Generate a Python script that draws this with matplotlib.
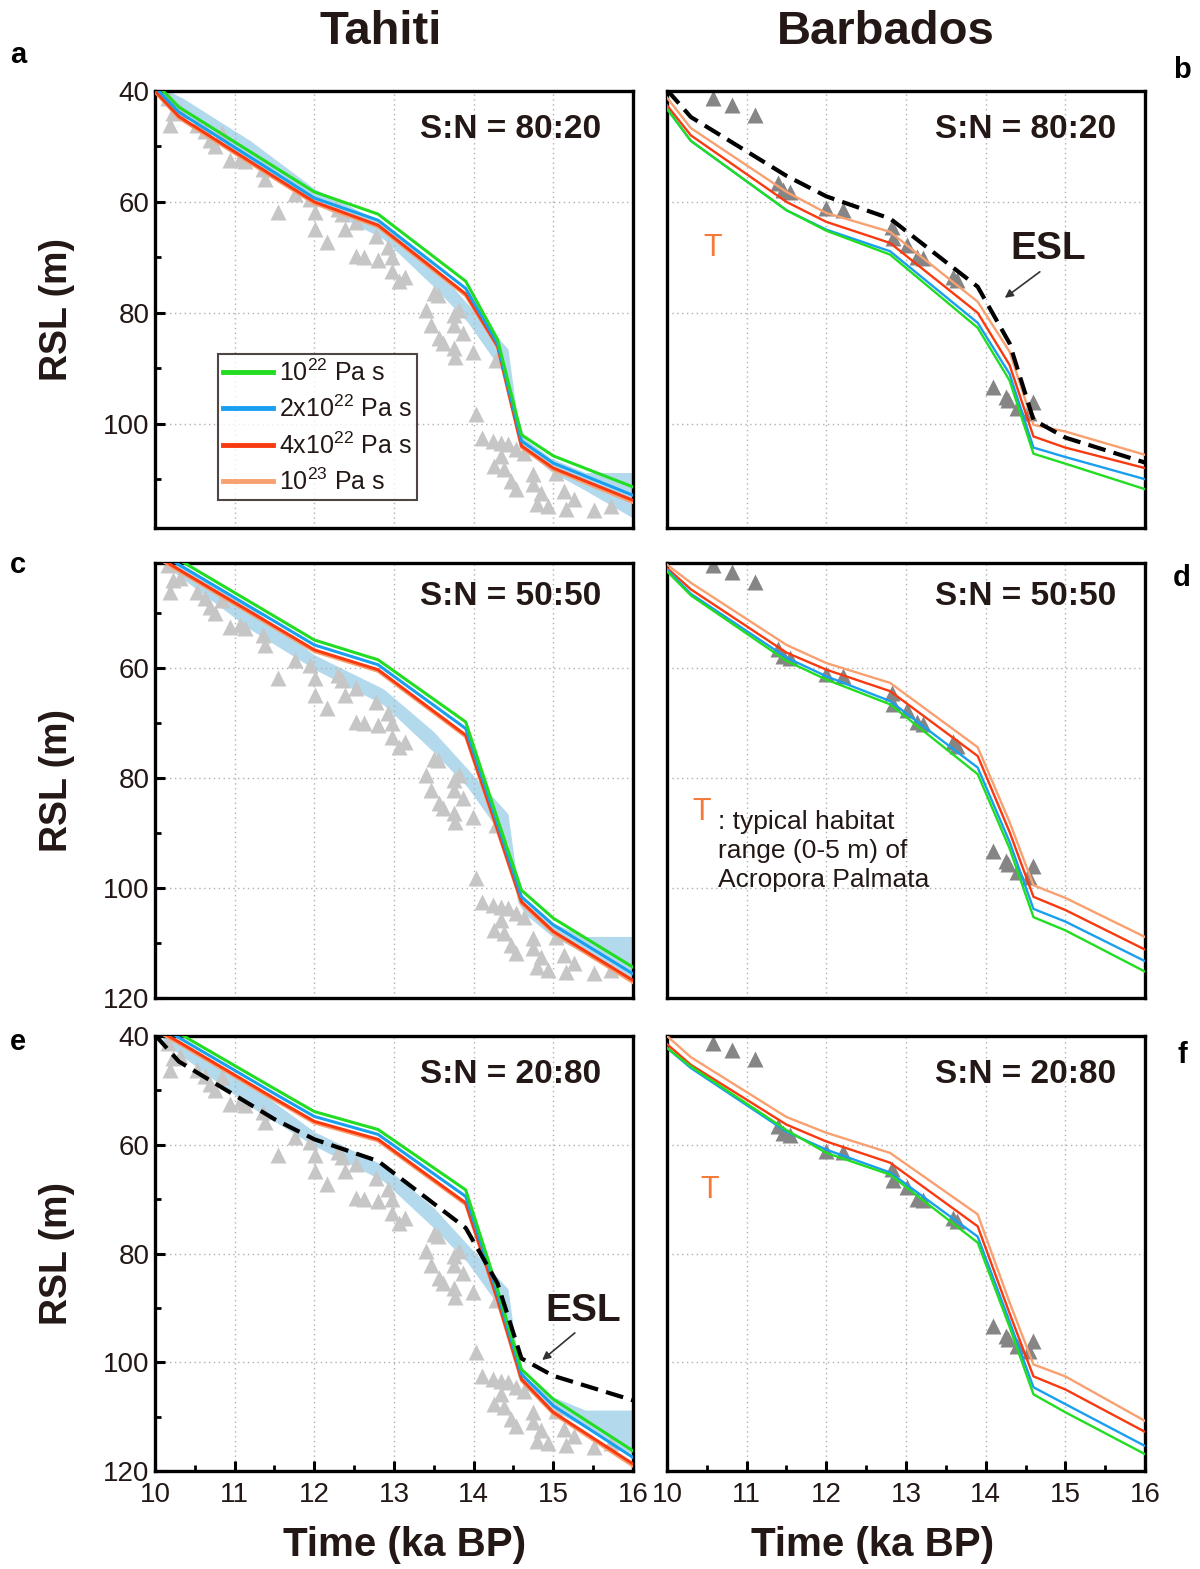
import numpy as np
import matplotlib
matplotlib.use("Agg")
import matplotlib.pyplot as plt
from matplotlib.lines import Line2D

plt.rcParams['font.family'] = ['Liberation Sans', 'DejaVu Sans']
plt.rcParams['mathtext.fontset'] = 'custom'
plt.rcParams['mathtext.rm'] = 'Liberation Sans'

TXT = "#231815"

# ==========================================
# Data
# ==========================================

# model time nodes (ka BP)
t_model = [10.0, 10.3, 11.5, 12.0, 12.8, 13.9, 14.3, 14.6, 15.0, 16.0]

# Tahiti, S:N = 80:20
a_green = [38.5, 42.9, 53.7, 58.2, 62.2, 74.3, 84.8, 102.0, 105.8, 111.4]
a_blue = [39.3, 43.8, 54.7, 59.3, 63.3, 75.6, 85.6, 103.1, 107.1, 112.9]
a_red = [40.0, 44.6, 55.5, 60.0, 64.2, 76.6, 86.0, 104.0, 108.0, 113.8]
a_orange = [40.2, 44.9, 55.8, 60.3, 64.5, 76.9, 86.2, 104.3, 108.3, 114.2]

# Barbados, S:N = 80:20
b_green = [43.2, 49.0, 61.5, 65.2, 69.5, 82.7, 92.2, 105.4, 107.2, 111.8]
b_blue = [43.2, 49.0, 61.5, 65.0, 68.9, 81.8, 91.0, 104.3, 106.0, 110.0]
b_red = [42.6, 48.0, 60.0, 63.6, 67.4, 80.0, 89.4, 102.3, 104.3, 108.0]
b_orange = [41.2, 46.7, 58.2, 62.0, 65.4, 78.0, 87.0, 100.2, 101.4, 105.6]

# Tahiti, S:N = 50:50
c_green = [37.7, 40.3, 50.6, 54.9, 58.5, 69.8, 87.5, 100.4, 105.5, 114.4]
c_blue = [38.5, 41.2, 51.5, 55.8, 59.4, 71.0, 88.4, 101.6, 106.7, 115.6]
c_red = [39.4, 42.1, 52.4, 56.7, 60.3, 72.2, 89.4, 102.5, 107.9, 116.8]
c_orange = [39.7, 42.4, 52.7, 57.0, 60.6, 72.5, 89.7, 102.8, 108.2, 117.2]

# Barbados, S:N = 50:50
d_green = [42.4, 46.8, 58.7, 62.1, 66.6, 79.3, 92.8, 105.3, 107.7, 115.2]
d_blue = [42.1, 46.5, 58.1, 61.5, 66.0, 78.1, 91.6, 103.8, 106.1, 113.3]
d_red = [41.8, 45.7, 57.2, 60.3, 64.2, 76.0, 89.8, 101.6, 104.0, 111.2]
d_orange = [41.2, 44.5, 55.8, 59.1, 62.7, 74.4, 88.0, 99.5, 101.8, 108.9]

# Tahiti, S:N = 20:80
e_green = [37.0, 39.5, 49.7, 53.9, 57.2, 68.3, 86.6, 101.3, 106.8, 116.3]
e_blue = [37.8, 40.3, 50.6, 54.8, 58.1, 69.5, 87.5, 102.2, 108.0, 117.5]
e_red = [38.6, 41.1, 51.5, 55.7, 59.0, 70.7, 88.5, 103.1, 109.2, 118.7]
e_orange = [38.9, 41.4, 51.8, 56.0, 59.3, 71.0, 88.8, 103.4, 109.5, 119.1]

# Barbados, S:N = 20:80
f_green = [42.2, 45.6, 57.3, 61.5, 65.5, 78.0, 93.5, 105.9, 109.2, 116.9]
f_blue = [42.2, 45.9, 57.6, 60.9, 65.1, 76.9, 92.5, 104.6, 107.7, 115.4]
f_red = [41.5, 45.3, 56.3, 59.4, 63.3, 75.0, 91.0, 102.6, 105.0, 112.8]
f_orange = [40.0, 43.9, 54.9, 57.8, 61.5, 72.8, 89.0, 100.4, 102.6, 110.8]

# ESL (dashed)
esl = [39.8, 44.7, 55.3, 59.0, 63.0, 75.3, 85.5, 99.3, 102.5, 107.0]

# Tahiti shaded band
band_t = [10.1, 10.35, 11.2, 12.0, 12.87, 13.5, 13.92, 14.43, 14.55, 14.65, 14.97, 15.4, 16.0]
band_lo = [39.5, 41.3, 49.0, 57.6, 63.8, 71.6, 78.3, 86.5, 99.0, 102.8, 106.2, 108.8, 108.8]
band_hi = [41.0, 43.8, 53.0, 60.2, 66.7, 75.3, 81.6, 92.0, 102.5, 104.8, 108.6, 112.0, 117.0]

# Tahiti coral data
tah_t = [10.16, 10.23, 10.19, 10.31, 10.53, 10.63, 10.69, 10.75, 10.84, 10.94,
         11.07, 11.13, 11.35, 11.38, 11.55, 11.76, 11.95, 12.01, 12.01, 12.16,
         12.30, 12.35, 12.39, 12.52, 12.52, 12.62, 12.77, 12.80, 12.93, 12.98,
         12.98, 13.06, 13.14, 13.55, 13.40, 13.46, 13.56, 13.61, 13.75, 13.77,
         13.75, 13.81, 13.75, 13.86, 13.99, 14.28, 14.03, 14.11, 14.24, 14.34,
         14.43, 14.53, 14.63, 14.34, 14.25, 14.38, 14.47, 14.53, 14.74, 14.75,
         14.84, 14.80, 14.93, 15.03, 15.13, 15.26, 15.16, 15.51, 15.72, 13.50]
tah_rsl = [41.3, 44.0, 46.2, 43.6, 46.2, 47.3, 48.9, 50.0, 47.6, 52.5,
           52.2, 52.7, 54.0, 55.8, 61.8, 58.5, 59.5, 61.8, 64.9, 67.3,
           61.3, 62.2, 64.9, 63.6, 69.8, 70.0, 66.2, 70.4, 68.2, 70.0,
           72.5, 74.3, 73.5, 76.7, 79.5, 82.2, 84.5, 85.5, 86.4, 88.0,
           80.4, 79.5, 82.2, 83.6, 87.1, 88.5, 98.2, 102.5, 103.1, 103.4,
           103.6, 104.5, 105.3, 105.8, 107.6, 108.2, 110.4, 111.8, 109.1, 110.9,
           112.5, 114.4, 114.9, 108.9, 112.2, 113.6, 115.3, 115.5, 114.9, 76.5]

# Barbados coral data
bar_t = [10.58, 10.82, 11.10, 11.39, 11.46, 11.54, 12.00, 12.21, 12.82, 12.84,
         13.01, 13.14, 13.21, 13.59, 13.64, 14.09, 14.26, 14.28, 14.39, 14.59, 14.55]
bar_rsl = [41.3, 42.5, 44.3, 56.6, 57.8, 58.2, 61.1, 61.4, 64.5, 66.5,
           67.7, 69.9, 70.1, 73.5, 74.1, 93.3, 95.1, 95.7, 97.1, 96.0, 98.0]

visc_labels = ["10$^{22}$ Pa s", "2x10$^{22}$ Pa s", "4x10$^{22}$ Pa s", "10$^{23}$ Pa s"]
visc_colors = ["#22dd22", "#1a9ff0", "#f83a10", "#f8a070"]

panels = {
    "a": dict(lines=[a_green, a_blue, a_red, a_orange], site="T", sn="S:N = 80:20", esl=False),
    "b": dict(lines=[b_green, b_blue, b_red, b_orange], site="B", sn="S:N = 80:20", esl=True),
    "c": dict(lines=[c_green, c_blue, c_red, c_orange], site="T", sn="S:N = 50:50", esl=False),
    "d": dict(lines=[d_green, d_blue, d_red, d_orange], site="B", sn="S:N = 50:50", esl=False),
    "e": dict(lines=[e_green, e_blue, e_red, e_orange], site="T", sn="S:N = 20:80", esl=True),
    "f": dict(lines=[f_green, f_blue, f_red, f_orange], site="B", sn="S:N = 20:80", esl=False),
}

# ==========================================
# Figure
# ==========================================

fig = plt.figure(figsize=(12, 15.69), dpi=100)

W, H = 1200, 1569
col_x = [155, 667]
col_w = 478
rows = [(91, 528, (118.8, 40)), (563, 998, (120, 40.9)), (1036, 1471, (120, 40))]
order = [["a", "b"], ["c", "d"], ["e", "f"]]

axes = {}
for r, (top, bot, ylim) in enumerate(rows):
    for c in range(2):
        key = order[r][c]
        ax = fig.add_axes([col_x[c] / W, 1 - bot / H, col_w / W, (bot - top) / H])
        ax.set_xticks(range(10, 17))
        ax.set_xticks(np.arange(10.5, 16, 1.0), minor=True)
        ax.set_yticks([40, 60, 80, 100, 120])
        ax.set_yticks([50, 70, 90, 110], minor=True)
        ax.set_xlim(10, 16)
        ax.set_ylim(*ylim)
        axes[key] = ax

for key, ax in axes.items():
    p = panels[key]
    left = p["site"] == "T"
    bottom = key in ("e", "f")

    ax.grid(True, which="major", color="#b0b0b0", linestyle=(0, (1, 2.5)), linewidth=1.0)

    for s in ax.spines.values():
        s.set_linewidth(2.4)
        s.set_color("black")

    ax.tick_params(which="both", direction="in", colors="black", labelcolor=TXT,
                   labelsize=20, top=False, right=False)
    ax.tick_params(which="major", length=7, width=2.2, pad=4)
    ax.tick_params(which="minor", length=4, width=2.0)
    ax.tick_params(axis="x", which="major", pad=8)
    ax.tick_params(axis="x", which="both", bottom=bottom, labelbottom=bottom)
    ax.tick_params(axis="y", which="both", left=left, labelleft=left)

    if left:
        ax.fill_between(band_t, band_lo, band_hi, color="#b3d9ec", lw=0, zorder=1)
        ax.plot(tah_t, tah_rsl, "^", color="#c6c6c6", ms=11.5, mec="none", zorder=2)
        lw = 2.2
    else:
        ax.plot(bar_t, bar_rsl, "^", color="#858585", ms=11, mec="none", zorder=2)
        lw = 1.7

    for vals, col in zip(p["lines"][::-1], visc_colors[::-1]):
        ax.plot(t_model, vals, color=col, lw=lw, zorder=3)

    if p["esl"]:
        ax.plot(t_model, esl, color="black", lw=3, dashes=(4.3, 2.0), zorder=4)

    xf = 0.744 if left else 0.75
    yf = 0.922 if key in ("c", "d") else 0.911
    ax.text(xf, yf, p["sn"], transform=ax.transAxes, ha="center", va="center",
            fontsize=24, fontweight="bold", color=TXT)

    if left:
        ax.set_ylabel("RSL (m)", fontsize=27, fontweight="bold", color=TXT)
        ax.yaxis.set_label_coords(-0.168, 0.5)

# Orange "T" habitat markers
for k, (xf, yf) in {"b": (0.096, 0.64), "d": (0.073, 0.428), "f": (0.09, 0.646)}.items():
    axes[k].text(xf, yf, "T", transform=axes[k].transAxes, ha="center", va="center",
                 fontsize=22, color="#f47a3a")
axes["d"].text(0.107, 0.338, ": typical habitat\nrange (0-5 m) of\nAcropora Palmata",
               transform=axes["d"].transAxes, ha="left", va="center", fontsize=19,
               color=TXT, linespacing=1.25)

# ESL labels
axes["b"].text(14.78, 68.5, "ESL", ha="center", va="center", fontsize=28,
               fontweight="bold", color=TXT)
axes["b"].annotate("", xy=(14.24, 77.3), xytext=(14.68, 72.6),
                   arrowprops=dict(arrowstyle="-|>", lw=1.2, color="#333333",
                                   mutation_scale=12, shrinkA=0, shrinkB=0))
axes["e"].text(15.38, 90.5, "ESL", ha="center", va="center", fontsize=28,
               fontweight="bold", color=TXT)
axes["e"].annotate("", xy=(14.86, 99.6), xytext=(15.27, 94.6),
                   arrowprops=dict(arrowstyle="-|>", lw=1.2, color="#333333",
                                   mutation_scale=12, shrinkA=0, shrinkB=0))

# Legend
handles = [Line2D([], [], color=c, lw=3.5) for c in visc_colors]
leg = axes["a"].legend(handles, visc_labels, loc="lower left", bbox_to_anchor=(0.132, 0.064),
                       frameon=True, fancybox=False, handlelength=2.0,
                       handletextpad=0.25, labelspacing=0.4, borderpad=0.2,
                       borderaxespad=0, prop={"family": "Liberation Sans", "size": 18})
leg.get_frame().set_edgecolor("#231815")
leg.get_frame().set_linewidth(1.5)
for t in leg.get_texts():
    t.set_color(TXT)
leg.set_zorder(5)

# Titles, axis labels and panel letters
fig.text(381 / W, 1 - 32 / H, "Tahiti", ha="center", va="center", fontsize=34,
         fontweight="bold", color=TXT)
fig.text(886 / W, 1 - 32 / H, "Barbados", ha="center", va="center", fontsize=34,
         fontweight="bold", color=TXT)
fig.text(405 / W, 1 - 1545 / H, "Time (ka BP)", ha="center", va="center", fontsize=29,
         fontweight="bold", color=TXT)
fig.text(873 / W, 1 - 1545 / H, "Time (ka BP)", ha="center", va="center", fontsize=29,
         fontweight="bold", color=TXT)

letters = {"a": (18, 55), "b": (1182, 70), "c": (18, 565),
           "d": (1182, 578), "e": (18, 1042), "f": (1182, 1055)}
for k, (x, y) in letters.items():
    fig.text(x / W, 1 - y / H, k, ha="center", va="center", fontsize=21,
             fontweight="bold", color="black")

fig.savefig("out.png", dpi=100)
print("Saved: out.png")
